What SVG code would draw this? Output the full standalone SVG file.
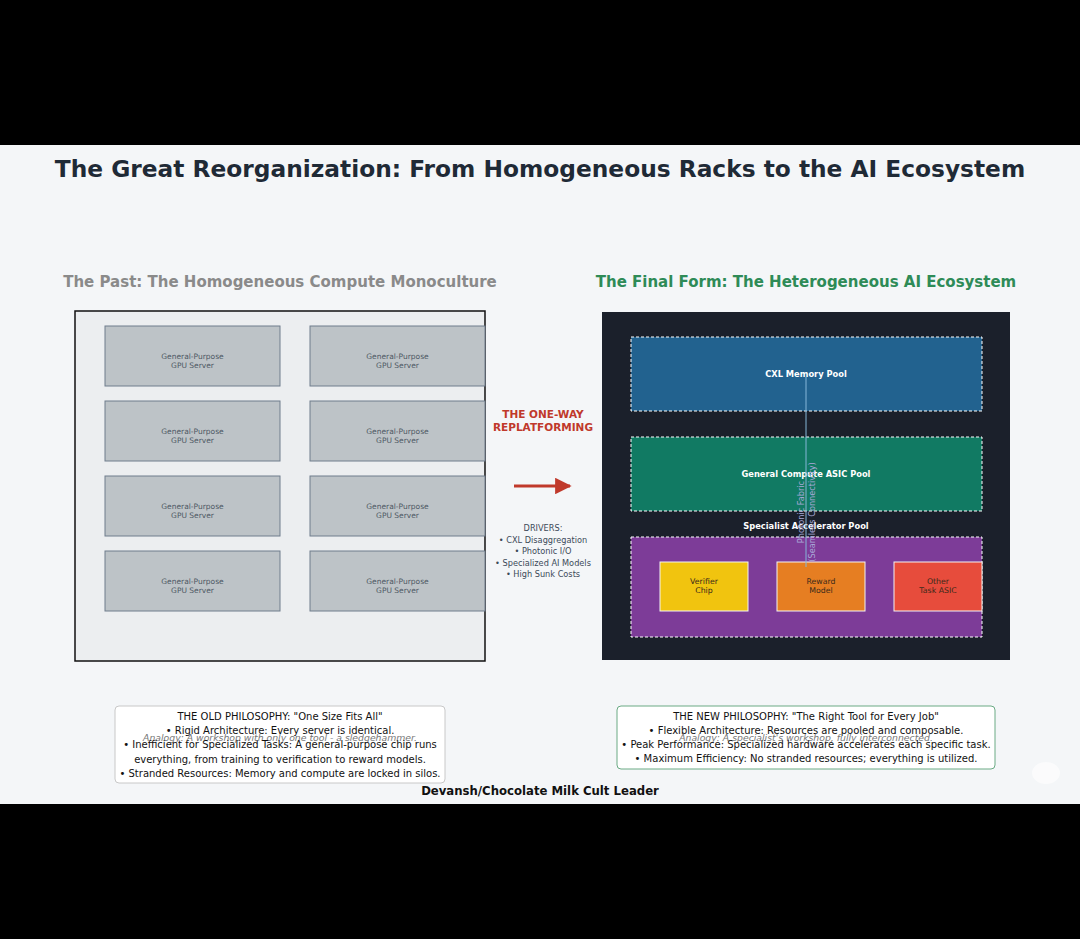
<svg xmlns="http://www.w3.org/2000/svg" width="1080" height="939" viewBox="0 0 1080 939">
<defs>
<style>
text{font-family:"DejaVu Sans","Liberation Sans",sans-serif;text-anchor:middle;dominant-baseline:central}
.title{font-size:23.3px;font-weight:bold;fill:#1f2a36}
.sub{font-size:15px;font-weight:bold}
.srv rect{fill:#bdc3c7;stroke:#6f7d8c;stroke-width:1}
.srv text{font-size:7.5px;fill:#4d5863}
.pool{stroke:#ffffff;stroke-width:1;stroke-dasharray:3,2}
.plabel{font-size:8.3px;font-weight:bold;fill:#ffffff}
.chip{stroke:#f3f3f3;stroke-width:1}
.ctext{font-size:7.8px;fill:#3a2a1a}
.drv{font-size:8.2px;fill:#3c4a58}
.ph{font-size:10px;fill:#111111}
.an{font-size:9.3px;font-style:italic;fill:#777777}
</style>
<marker id="arr" viewBox="0 0 10 10" refX="9" refY="5" markerWidth="5.5" markerHeight="5.5" orient="auto" markerUnits="strokeWidth">
<path d="M0,0 L10,5 L0,10 z" fill="#c0392b"/>
</marker>
</defs>
<rect x="0" y="0" width="1080" height="939" fill="#000000"/>
<rect x="0" y="145" width="1080" height="659" fill="#f4f6f8"/>
<text class="title" x="540" y="168">The Great Reorganization: From Homogeneous Racks to the AI Ecosystem</text>
<text class="sub" x="280" y="282" fill="#8a8a8a">The Past: The Homogeneous Compute Monoculture</text>
<text class="sub" x="806" y="282" fill="#2e8b57">The Final Form: The Heterogeneous AI Ecosystem</text>

<g id="old-rack">
<rect x="75" y="311" width="410" height="350" fill="#eceef0" stroke="#111111" stroke-width="1.5"/>
</g>
<g id="server-1" class="srv"><rect x="105" y="326" width="175" height="60"/><text x="192.5" y="356">General-Purpose</text><text x="192.5" y="365">GPU Server</text></g>
<g id="server-2" class="srv"><rect x="310" y="326" width="175" height="60"/><text x="397.5" y="356">General-Purpose</text><text x="397.5" y="365">GPU Server</text></g>
<g id="server-3" class="srv"><rect x="105" y="401" width="175" height="60"/><text x="192.5" y="431">General-Purpose</text><text x="192.5" y="440">GPU Server</text></g>
<g id="server-4" class="srv"><rect x="310" y="401" width="175" height="60"/><text x="397.5" y="431">General-Purpose</text><text x="397.5" y="440">GPU Server</text></g>
<g id="server-5" class="srv"><rect x="105" y="476" width="175" height="60"/><text x="192.5" y="506">General-Purpose</text><text x="192.5" y="515">GPU Server</text></g>
<g id="server-6" class="srv"><rect x="310" y="476" width="175" height="60"/><text x="397.5" y="506">General-Purpose</text><text x="397.5" y="515">GPU Server</text></g>
<g id="server-7" class="srv"><rect x="105" y="551" width="175" height="60"/><text x="192.5" y="581">General-Purpose</text><text x="192.5" y="590">GPU Server</text></g>
<g id="server-8" class="srv"><rect x="310" y="551" width="175" height="60"/><text x="397.5" y="581">General-Purpose</text><text x="397.5" y="590">GPU Server</text></g>

<g id="transition">
<text x="543" y="414" font-size="10.5" font-weight="bold" fill="#c0392b">THE ONE-WAY</text>
<text x="543" y="427" font-size="10.5" font-weight="bold" fill="#c0392b">REPLATFORMING</text>
<text class="drv" x="543" y="528">DRIVERS:</text>
<text class="drv" x="543" y="539.5">• CXL Disaggregation</text>
<text class="drv" x="543" y="551">• Photonic I/O</text>
<text class="drv" x="543" y="562.5">• Specialized AI Models</text>
<text class="drv" x="543" y="574">• High Sunk Costs</text>
</g>

<g id="ecosystem">
<rect x="602" y="312" width="408" height="348" fill="#1b202b"/>
</g>
<g id="cxl-pool">
<rect class="pool" x="631" y="337" width="351" height="74" fill="#22628f"/>
<text class="plabel" x="806" y="374">CXL Memory Pool</text>
</g>
<g id="asic-pool">
<rect class="pool" x="631" y="437" width="351" height="74" fill="#117a63"/>
<text class="plabel" x="806" y="474">General Compute ASIC Pool</text>
</g>
<g id="specialist-pool">
<rect class="pool" x="631" y="537" width="351" height="100" fill="#7d3c98"/>
<text class="plabel" x="806" y="526">Specialist Accelerator Pool</text>
</g>
<g id="verifier-chip">
<rect class="chip" x="660" y="562" width="88" height="49" fill="#f1c40f"/>
<text class="ctext" x="704" y="581">Verifier</text><text class="ctext" x="704" y="590">Chip</text>
</g>
<g id="reward-model">
<rect class="chip" x="777" y="562" width="88" height="49" fill="#e67e22"/>
<text class="ctext" x="821" y="581">Reward</text><text class="ctext" x="821" y="590">Model</text>
</g>
<g id="other-asic">
<rect class="chip" x="894" y="562" width="88" height="49" fill="#e74c3c"/>
<text class="ctext" x="938" y="581">Other</text><text class="ctext" x="938" y="590">Task ASIC</text>
</g>

<g id="connectors">
<line x1="514" y1="486" x2="570" y2="486" stroke="#c0392b" stroke-width="3" marker-end="url(#arr)"/>
<line x1="806" y1="377" x2="806" y2="567" stroke="#85b6d9" stroke-width="1"/>
<g transform="translate(806,512) rotate(-90)">
<text x="0" y="-5.5" font-size="8.2px" fill="#a9a9d9">Photonic Fabric</text>
<text x="0" y="5.5" font-size="8.2px" fill="#a9a9d9">(Seamless Connectivity)</text>
</g>
</g>

<g id="old-philosophy">
<rect x="115" y="706" width="330" height="77" rx="4" fill="#ffffff" stroke="#c8c8c8" stroke-width="1"/>
<text class="ph" x="280" y="716">THE OLD PHILOSOPHY: "One Size Fits All"</text>
<text class="ph" x="280" y="730">• Rigid Architecture: Every server is identical.</text>
<text class="an" x="280" y="737">Analogy: A workshop with only one tool - a sledgehammer.</text>
<text class="ph" x="280" y="744">• Inefficient for Specialized Tasks: A general-purpose chip runs</text>
<text class="ph" x="280" y="759">everything, from training to verification to reward models.</text>
<text class="ph" x="280" y="773">• Stranded Resources: Memory and compute are locked in silos.</text>
</g>
<g id="new-philosophy">
<rect x="617" y="706" width="378" height="63" rx="4" fill="#ffffff" stroke="#6aaa84" stroke-width="1"/>
<text class="ph" x="806" y="716">THE NEW PHILOSOPHY: "The Right Tool for Every Job"</text>
<text class="ph" x="806" y="730">• Flexible Architecture: Resources are pooled and composable.</text>
<text class="an" x="806" y="737">Analogy: A specialist's workshop, fully interconnected.</text>
<text class="ph" x="806" y="744">• Peak Performance: Specialized hardware accelerates each specific task.</text>
<text class="ph" x="806" y="758">• Maximum Efficiency: No stranded resources; everything is utilized.</text>
</g>
<text x="540" y="791" font-size="11.7px" font-weight="bold" fill="#111111">Devansh/Chocolate Milk Cult Leader</text>
<ellipse cx="1046" cy="773" rx="14" ry="11" fill="#ffffff" opacity="0.6"/>
</svg>
